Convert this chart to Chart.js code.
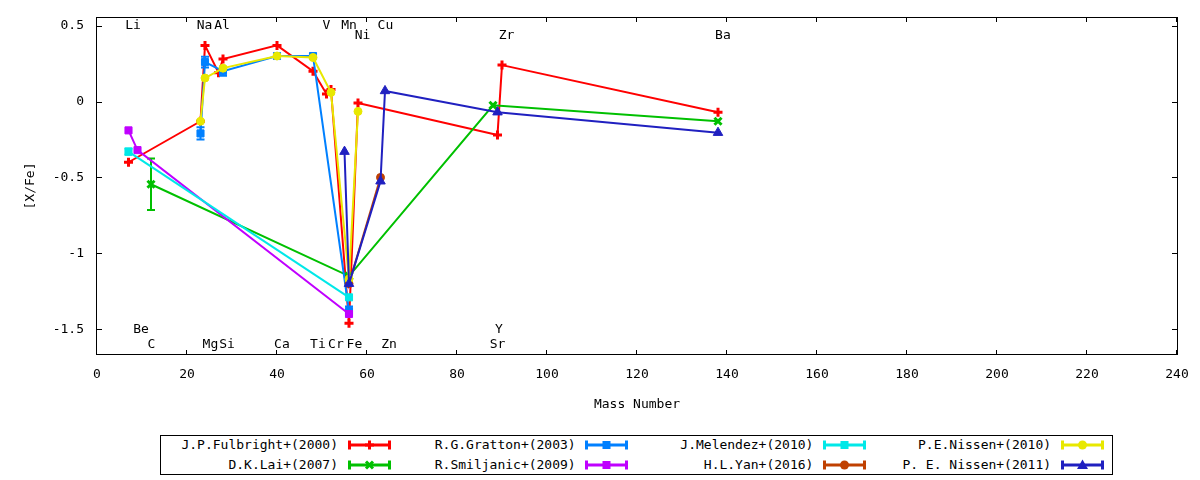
<!DOCTYPE html>
<html lang="en">
<head>
  <meta charset="UTF-8">
  <title>[X/Fe] vs Mass Number</title>
  <script src="https://cdn.jsdelivr.net/npm/chart.js"></script>
  <style>
    body {
      margin: 0;
      background: #fff;
      font-family: 'DejaVu Sans Mono', monospace;
      font-size: 13px;
      color: #000;
    }
    .wrap {
      position: relative;
      width: 1200px;
      height: 480px;
    }
    .plot {
      position: absolute;
      left: 0;
      top: 0;
      width: 1200px;
      height: 420px;
    }
    .key {
      position: absolute;
      left: 160px;
      top: 435px;
      width: 951px;
      height: 38px;
      border: 1px solid #000;
    }
    .key span {
      position: absolute;
      width: 240px;
      height: 16px;
      line-height: 16px;
      text-align: right;
      white-space: pre;
    }
    .key svg {
      position: absolute;
    }
  </style>
</head>
<body>
<div class="wrap">
  <div class="plot"><canvas id="abundChart"></canvas></div>
  <div class="key" id="key"></div>
</div>

<script>
  // axis ticks
  const xTicks = [0, 20, 40, 60, 80, 100, 120, 140, 160, 180, 200, 220, 240];
  const yTicks = [-1.5, -1, -0.5, 0, 0.5];

  // element labels (mass position, [X/Fe] position)
  const elemNames = ['Li', 'Na', 'Al', 'V', 'Mn', 'Cu', 'Ni', 'Zr', 'Ba',
                     'Be', 'Y', 'C', 'Mg', 'Si', 'Ca', 'Ti', 'Cr', 'Fe', 'Zn', 'Sr'];
  const elemX = [8.0, 23.9, 27.8, 51.0, 56.0, 64.1, 59.0, 91.0, 139.1,
                 9.8, 89.3, 12.1, 25.2, 28.9, 41.1, 49.1, 53.1, 57.2, 64.9, 89.0];
  const elemY = [0.5, 0.5, 0.5, 0.5, 0.5, 0.5, 0.435, 0.435, 0.435,
                 -1.5, -1.5, -1.6, -1.6, -1.6, -1.6, -1.6, -1.6, -1.6, -1.6, -1.6];

  // J.P.Fulbright+(2000)
  const fulbrightMass = [7, 23, 24, 27, 28, 40, 48, 51, 52, 56, 58, 89, 90, 138];
  const fulbrightVal = [-0.40, -0.13, 0.37, 0.19, 0.28, 0.37, 0.20, 0.05, 0.08, -1.46, -0.01, -0.22, 0.24, -0.07];
  const fulbrightErr = [0, 0, 0, 0, 0, 0, 0, 0, 0, 0, 0, 0, 0, 0];

  // D.K.Lai+(2007)
  const laiMass = [12, 56, 88, 138];
  const laiVal = [-0.545, -1.15, -0.025, -0.13];
  const laiErr = [0.17, 0, 0, 0];

  // R.G.Gratton+(2003)
  const grattonMass = [23, 24, 28, 40, 48, 56];
  const grattonVal = [-0.21, 0.26, 0.20, 0.30, 0.30, -1.38];
  const grattonErr = [0.04, 0.035, 0.03, 0.015, 0.015, 0.03];

  // R.Smiljanic+(2009)
  const smiljanicMass = [7, 9, 56];
  const smiljanicVal = [-0.19, -0.32, -1.40];
  const smiljanicErr = [0, 0, 0];

  // J.Melendez+(2010)
  const melendezMass = [7, 56];
  const melendezVal = [-0.33, -1.29];
  const melendezErr = [0.02, 0];

  // H.L.Yan+(2016)
  const yanMass = [56, 63];
  const yanVal = [-1.20, -0.50];
  const yanErr = [0, 0];

  // P.E.Nissen+(2010)
  const nissen10Mass = [23, 24, 28, 40, 48, 52, 56, 58];
  const nissen10Val = [-0.13, 0.155, 0.22, 0.30, 0.29, 0.06, -1.17, -0.065];
  const nissen10Err = [0, 0, 0, 0, 0, 0, 0, 0];

  // P. E. Nissen+(2011)
  const nissen11Mass = [55, 56, 63, 64, 89, 138];
  const nissen11Val = [-0.33, -1.20, -0.525, 0.07, -0.07, -0.205];
  const nissen11Err = [0, 0, 0, 0, 0, 0];

  // series in plotting order (later ones drawn on top)
  const series = [
    { label: 'J.P.Fulbright+(2000)', color: '#ff0000', style: 'cross', r: 4.5, bw: 3, mass: fulbrightMass, val: fulbrightVal, err: fulbrightErr },
    { label: 'D.K.Lai+(2007)', color: '#00c000', style: 'crossRot', r: 5, bw: 3, mass: laiMass, val: laiVal, err: laiErr },
    { label: 'R.G.Gratton+(2003)', color: '#0080ff', style: 'rect', r: 5, bw: 1, mass: grattonMass, val: grattonVal, err: grattonErr },
    { label: 'R.Smiljanic+(2009)', color: '#c000ff', style: 'rect', r: 5, bw: 1, mass: smiljanicMass, val: smiljanicVal, err: smiljanicErr },
    { label: 'J.Melendez+(2010)', color: '#00e8e8', style: 'rect', r: 5, bw: 1, mass: melendezMass, val: melendezVal, err: melendezErr },
    { label: 'H.L.Yan+(2016)', color: '#c04000', style: 'circle', r: 4, bw: 1, mass: yanMass, val: yanVal, err: yanErr },
    { label: 'P.E.Nissen+(2010)', color: '#e8e800', style: 'circle', r: 4, bw: 1, mass: nissen10Mass, val: nissen10Val, err: nissen10Err },
    { label: 'P. E. Nissen+(2011)', color: '#2020c0', style: 'triangle', r: 5.5, bw: 1, mass: nissen11Mass, val: nissen11Val, err: nissen11Err }
  ];

  const FONT = "'DejaVu Sans Mono', monospace";

  // chart.js draws the first dataset on top, so feed them reversed
  const datasets = series.slice().reverse().map(s => ({
    label: s.label,
    data: s.mass.map((m, i) => ({ x: m, y: s.val[i] })),
    errs: s.err,
    showLine: true,
    borderColor: s.color,
    backgroundColor: s.color,
    borderWidth: 2,
    pointStyle: s.style,
    pointRadius: s.r,
    pointBorderWidth: s.bw,
    pointBorderColor: s.color,
    pointBackgroundColor: s.color,
    tension: 0
  }));

  // vertical error bars with caps, drawn under each series
  const errorBars = {
    id: 'errorBars',
    beforeDatasetDraw(chart, args) {
      const ds = chart.data.datasets[args.index];
      const { ctx, scales: { x, y } } = chart;
      ctx.save();
      ctx.strokeStyle = ds.borderColor;
      ctx.lineWidth = 2;
      ds.data.forEach((p, i) => {
        const e = ds.errs[i];
        if (!e) return;
        const px = x.getPixelForValue(p.x);
        const top = y.getPixelForValue(p.y + e);
        const bot = y.getPixelForValue(p.y - e);
        ctx.beginPath();
        ctx.moveTo(px, top); ctx.lineTo(px, bot);
        ctx.moveTo(px - 4, top); ctx.lineTo(px + 4, top);
        ctx.moveTo(px - 4, bot); ctx.lineTo(px + 4, bot);
        ctx.stroke();
      });
      ctx.restore();
    }
  };

  // gnuplot style frame with inward ticks, plus element labels
  const frame = {
    id: 'frame',
    afterDraw(chart) {
      const { ctx, chartArea: a, scales: { x, y } } = chart;
      ctx.save();
      ctx.strokeStyle = '#000';
      ctx.lineWidth = 1;
      ctx.strokeRect(a.left - 0.5, a.top + 0.5, a.right - a.left + 1, a.bottom - a.top - 1);
      ctx.beginPath();
      xTicks.forEach(v => {
        const px = Math.round(x.getPixelForValue(v)) - 0.5;
        ctx.moveTo(px, a.bottom); ctx.lineTo(px, a.bottom - 5);
        ctx.moveTo(px, a.top); ctx.lineTo(px, a.top + 5);
      });
      yTicks.forEach(v => {
        const py = Math.round(y.getPixelForValue(v)) + 0.5;
        ctx.moveTo(a.left, py); ctx.lineTo(a.left + 5, py);
        ctx.moveTo(a.right, py); ctx.lineTo(a.right - 5, py);
      });
      ctx.stroke();

      ctx.fillStyle = '#000';
      ctx.font = '13px ' + FONT;
      ctx.textAlign = 'center';
      ctx.textBaseline = 'middle';
      elemNames.forEach((n, i) => {
        ctx.fillText(n, x.getPixelForValue(elemX[i]), y.getPixelForValue(elemY[i]));
      });
      ctx.restore();
    }
  };

  const ctx = document.getElementById('abundChart').getContext('2d');
  const abundChart = new Chart(ctx, {
    type: 'scatter',
    data: { datasets: datasets },
    plugins: [errorBars, frame],
    options: {
      responsive: true,
      maintainAspectRatio: false,
      animation: false,
      layout: { autoPadding: false, padding: { top: 17, right: 23, left: 0, bottom: 0 } },
      plugins: {
        legend: { display: false },
        tooltip: { enabled: false }
      },
      scales: {
        x: {
          type: 'linear',
          min: 0,
          max: 240,
          afterBuildTicks: s => { s.ticks = xTicks.map(v => ({ value: v })); },
          afterFit: s => { s.height = 65; s.paddingLeft = 0; s.paddingRight = 0; },
          grid: { display: false, drawTicks: false },
          border: { display: false },
          ticks: { padding: 12, color: '#000', font: { family: FONT, size: 13 }, maxRotation: 0 },
          title: { display: true, text: 'Mass Number', color: '#000', font: { family: FONT, size: 13 }, padding: { top: 4, bottom: 8 } }
        },
        y: {
          type: 'linear',
          min: -1.67,
          max: 0.557,
          afterBuildTicks: s => { s.ticks = yTicks.map(v => ({ value: v })); },
          afterFit: s => { s.width = 97; s.paddingTop = 0; s.paddingBottom = 0; },
          grid: { display: false, drawTicks: false },
          border: { display: false },
          ticks: { padding: 13, color: '#000', font: { family: FONT, size: 13 }, callback: v => String(v) },
          title: { display: true, text: '[X/Fe]', color: '#000', font: { family: FONT, size: 13 }, padding: { top: 23, bottom: 0 } }
        }
      }
    }
  });

  // key box: 4 columns x 2 rows, filled column by column
  const key = document.getElementById('key');
  const colStep = 237.7;
  const rowMid = [9.3, 29.3];

  function markerSvg(s, cx, cy) {
    const c = s.color;
    if (s.style === 'cross') {
      return `<line x1="${cx - 4.5}" y1="${cy}" x2="${cx + 4.5}" y2="${cy}" stroke="${c}" stroke-width="3"/>` +
             `<line x1="${cx}" y1="${cy - 4.5}" x2="${cx}" y2="${cy + 4.5}" stroke="${c}" stroke-width="3"/>`;
    }
    if (s.style === 'crossRot') {
      return `<line x1="${cx - 3.5}" y1="${cy - 3.5}" x2="${cx + 3.5}" y2="${cy + 3.5}" stroke="${c}" stroke-width="3"/>` +
             `<line x1="${cx - 3.5}" y1="${cy + 3.5}" x2="${cx + 3.5}" y2="${cy - 3.5}" stroke="${c}" stroke-width="3"/>`;
    }
    if (s.style === 'rect') return `<rect x="${cx - 4}" y="${cy - 4}" width="8" height="8" fill="${c}"/>`;
    if (s.style === 'circle') return `<circle cx="${cx}" cy="${cy}" r="4.5" fill="${c}"/>`;
    return `<polygon points="${cx},${cy - 5.5} ${cx + 5.5},${cy + 4} ${cx - 5.5},${cy + 4}" fill="${c}"/>`;
  }

  series.forEach((s, i) => {
    const col = Math.floor(i / 2);
    const row = i % 2;
    const textRight = 177 + col * colStep;
    const sampleLeft = 186.7 + col * colStep;

    const span = document.createElement('span');
    span.textContent = s.label;
    span.style.left = (textRight - 240) + 'px';
    span.style.top = (rowMid[row] - 8) + 'px';
    key.appendChild(span);

    const w = 44, h = 12, cy = 6;
    const svg = `<svg width="${w}" height="${h}" style="left:${sampleLeft}px;top:${rowMid[row] - 6}px">` +
      `<line x1="0" y1="${cy}" x2="${w - 1}" y2="${cy}" stroke="${s.color}" stroke-width="3"/>` +
      `<line x1="1.5" y1="${cy - 4.5}" x2="1.5" y2="${cy + 4.5}" stroke="${s.color}" stroke-width="3"/>` +
      `<line x1="${w - 2.5}" y1="${cy - 4.5}" x2="${w - 2.5}" y2="${cy + 4.5}" stroke="${s.color}" stroke-width="3"/>` +
      markerSvg(s, (w - 1) / 2, cy) + `</svg>`;
    key.insertAdjacentHTML('beforeend', svg);
  });
</script>
</body>
</html>
